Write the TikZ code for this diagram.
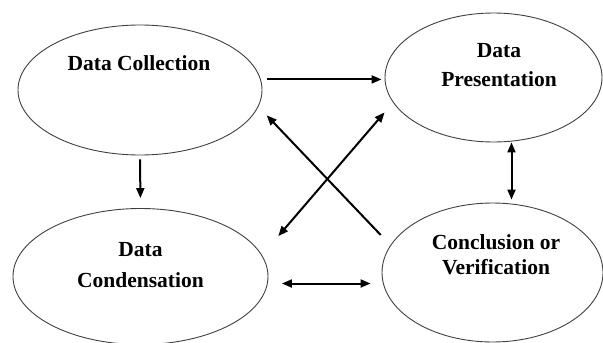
\documentclass[tikz,border=0pt]{standalone}
\usepackage{fontspec}
\setmainfont{Liberation Serif}
\usetikzlibrary{shapes.geometric,arrows.meta}
\begin{document}
\begin{tikzpicture}[x=1pt, y=-1pt]
		\tikzset{el/.style={ellipse, draw=black!75, line width=0.9pt},
			lbl/.style={font=\bfseries, align=center, inner sep=0pt},
			ar/.style={line width=2pt, -{Triangle[length=10pt,width=8pt]}},
			dbl/.style={line width=2pt, {Triangle[length=10pt,width=8pt]}-{Triangle[length=10pt,width=8pt]}}};

		\useasboundingbox (0,0) rectangle (603,343);

		\node[el, minimum width=244pt, minimum height=130pt] (col) at (140, 90) {};
		\node[el, minimum width=217pt, minimum height=129pt] (pre) at (493.5, 77.5) {};
		\node[el, minimum width=255pt, minimum height=136pt] (con) at (140.5, 276.5) {};
		\node[el, minimum width=221pt, minimum height=139pt] (ver) at (492.5, 272.5) {};

		\node[lbl, font=\fontsize{21.5}{28}\selectfont\bfseries] (colt) at (139, 63) {Data Collection};
		\node[lbl, font=\fontsize{21.5}{29}\selectfont\bfseries] (pret) at (499, 65) {Data\\Presentation};
		\node[lbl, font=\fontsize{21.5}{31}\selectfont\bfseries] (cont) at (140.5, 265) {Data\\Condensation};
		\node[lbl, font=\fontsize{21.5}{25}\selectfont\bfseries] (vert) at (496, 255) {Conclusion or\\Verification};

		\draw[ar, shorten <=6.5pt, shorten >=3pt] (col.5) to (col.5 -| pre.west);
		\draw[ar, shorten <=4pt, shorten >=10pt] (col.south) to (con.north);

		\draw[dbl, shorten >=3pt] ([xshift=18pt]pre.south) to ([xshift=18pt]pre.south |- ver.north);
		\draw[dbl, shorten <=13.5pt, shorten >=11pt] ([yshift=-7pt]con.east) to ([yshift=-7pt]con.east -| ver.west);

		\draw[ar, shorten <=14pt, shorten >=12pt] (ver.165) to (col.-8);
		\draw[dbl, shorten <=25pt, shorten >=13pt] (con.10) to (pre.-166);

	\end{tikzpicture}
\end{document}
